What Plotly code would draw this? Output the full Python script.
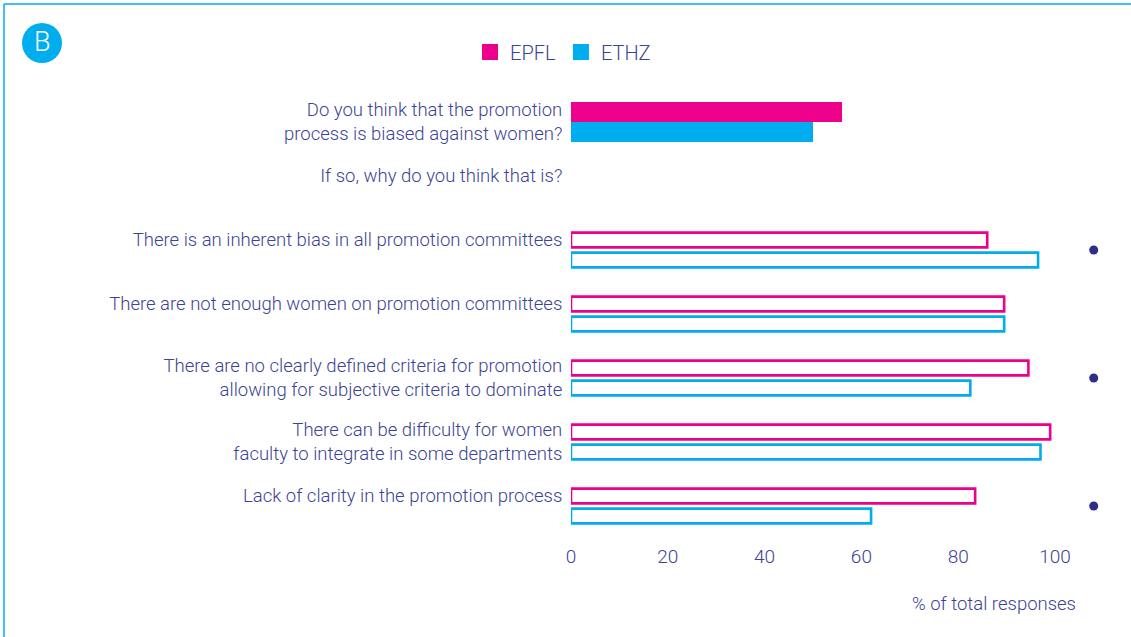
import plotly.graph_objects as go

# ---- data ----
labels = [
    "Do you think that the promotion<br>process is biased against women?",
    "If so, why do you think that is?",
    "There is an inherent bias in all promotion committees",
    "There are not enough women on promotion committees",
    "There are no clearly defined criteria for promotion<br>allowing for subjective criteria to dominate",
    "There can be difficulty for women<br>faculty to integrate in some departments",
    "Lack of clarity in the promotion process",
]
label_row = [0, 0.83, 2, 3, 4, 5, 6]

q_pos = [0]
q_epfl = [56]
q_ethz = [50]

reason_pos = [2, 3, 4, 5, 6]
reason_epfl = [86, 89.5, 94.5, 99, 83.5]
reason_ethz = [96.5, 89.5, 82.5, 97, 62]
significant = [True, False, True, False, True]

PINK = "#ec008c"
BLUE = "#00aeef"
TEXT = "#3b4394"
DOT = "#2b3185"
FONT = "Roboto"

W, H = 1131, 637
L, R, T, B = 571, 26, 90, 107
pw, ph = W - L - R, H - T - B
px_per_unit_x = 4.84
x_max = pw / px_per_unit_x
y_top, y_bot = -0.5, -0.5 + ph / 64.0

# single-line reason labels sit level with the upper (EPFL) bar
label_pos = [
    r - 0.17 if (r >= 2 and "<br>" not in t) else r
    for r, t in zip(label_row, labels)
]

def px(x):
    return (x - L) / pw

def py(y):
    return (H - B - y) / ph

fig = go.Figure()

# filled bars for the first question
fig.add_trace(go.Bar(y=q_pos, x=q_epfl, orientation="h", width=0.3125, offset=-0.3125,
                     marker=dict(color=PINK, line=dict(width=0)), showlegend=False, hoverinfo="x"))
fig.add_trace(go.Bar(y=q_pos, x=q_ethz, orientation="h", width=0.3125, offset=0,
                     marker=dict(color=BLUE, line=dict(width=0)), showlegend=False, hoverinfo="x"))

# outlined bars for the reasons
fig.add_trace(go.Bar(y=reason_pos, x=reason_epfl, orientation="h", width=0.23, offset=-0.271,
                     marker=dict(color="white", line=dict(color=PINK, width=2.6)),
                     showlegend=False, hoverinfo="x"))
fig.add_trace(go.Bar(y=reason_pos, x=reason_ethz, orientation="h", width=0.23, offset=0.041,
                     marker=dict(color="white", line=dict(color=BLUE, width=2.6)),
                     showlegend=False, hoverinfo="x"))

# significance dots
dot_y = [p for p, s in zip(reason_pos, significant) if s]
fig.add_trace(go.Scatter(x=[108] * len(dot_y), y=dot_y, mode="markers",
                         marker=dict(color=DOT, size=9), showlegend=False, hoverinfo="skip",
                         cliponaxis=False))

# legend entries
fig.add_trace(go.Scatter(x=[None], y=[None], mode="markers", name="EPFL",
                         marker=dict(symbol="square", color=PINK, size=16)))
fig.add_trace(go.Scatter(x=[None], y=[None], mode="markers", name="ETHZ",
                         marker=dict(symbol="square", color=BLUE, size=16)))

fig.update_layout(
    width=W, height=H,
    margin=dict(l=L, r=R, t=T, b=B, autoexpand=False),
    paper_bgcolor="white", plot_bgcolor="white",
    barmode="overlay",
    font=dict(family=FONT, color=TEXT, size=18),
    showlegend=True,
    legend=dict(orientation="h", x=px(563), xanchor="center", y=py(52), yanchor="middle",
                font=dict(size=20, color=TEXT, weight=300), itemwidth=30, traceorder="normal"),
    xaxis=dict(range=[0, x_max], tickvals=[0, 20, 40, 60, 80, 100], showgrid=False,
               zeroline=False, showline=False, ticks="outside", ticklen=9,
               tickcolor="rgba(0,0,0,0)", tickfont=dict(size=19, color=TEXT, weight=300)),
    yaxis=dict(range=[y_bot, y_top], tickvals=label_pos, ticktext=labels, showgrid=False,
               zeroline=False, showline=False, ticks="outside", ticklen=4,
               tickcolor="rgba(0,0,0,0)", tickfont=dict(size=18.5, color=TEXT, weight=300)),
    shapes=[
        dict(type="line", xref="paper", yref="paper", x0=px(4), x1=px(1131), y0=py(4), y1=py(4),
             line=dict(color=BLUE, width=1.5)),
        dict(type="line", xref="paper", yref="paper", x0=px(4), x1=px(4), y0=py(4), y1=py(637),
             line=dict(color=BLUE, width=1.5)),
        dict(type="circle", xref="paper", yref="paper", x0=px(22), x1=px(62), y0=py(23), y1=py(63),
             fillcolor=BLUE, line=dict(width=0)),
    ],
    annotations=[
        dict(text="B", xref="paper", yref="paper", x=px(42), y=py(42), showarrow=False,
             font=dict(size=27, color="white", family=FONT, weight=300),
             xanchor="center", yanchor="middle"),
        dict(text="% of total responses", xref="paper", yref="paper", x=px(1078), y=py(604),
             showarrow=False, xanchor="right", yanchor="middle",
             font=dict(size=18.5, color=TEXT, weight=300)),
    ],
)

fig.write_html("out.html", config={"displayModeBar": False},
               post_script="document.body.style.margin='0px';")
